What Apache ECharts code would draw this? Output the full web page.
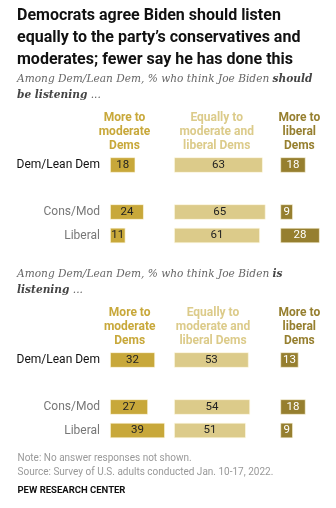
<!DOCTYPE html>
<html><head><meta charset="utf-8">
<script src="https://cdn.jsdelivr.net/npm/echarts@6/dist/echarts.min.js"></script>
<style>html,body{margin:0;padding:0;background:#fff}#c{width:336px;height:508px}</style>
</head><body><div id="c"></div>
<script>
const groups = ['Dem/Lean Dem', '', 'Cons/Mod', 'Liberal'];
const shouldModerate = [18, null, 24, 11];
const shouldEqual = [63, null, 65, 61];
const shouldLiberal = [18, null, 9, 28];
const isModerate = [32, null, 27, 39];
const isEqual = [53, null, 54, 51];
const isLiberal = [13, null, 18, 9];
const colHeaders = ['More to\nmoderate\nDems', 'Equally to\nmoderate and\nliberal Dems', 'More to\nliberal\nDems'];
const colColors = ['#c8a83a', '#dccb8a', '#967f2f'];
const labelColors = ['#222', '#222', '#fff'];

const chart = echarts.init(document.getElementById('c'), null, {renderer: 'canvas'});
const F = 'Roboto, "Liberation Sans", Arial, sans-serif';
const scale = 1.41;
const colLeft = [110, 174, 280.3];
const colMax = [50, 70, 38];
const secTop = [153.25, 348.25];
const bandH = 94;
const grids = [], xAxes = [], yAxes = [], series = [];
const secData = [[shouldModerate, shouldEqual, shouldLiberal], [isModerate, isEqual, isLiberal]];
secData.forEach((cols, s) => {
  cols.forEach((vals, c) => {
    const i = grids.length;
    grids.push({left: colLeft[c], top: secTop[s], width: colMax[c] * scale, height: bandH});
    xAxes.push({gridIndex: i, type: 'value', min: 0, max: colMax[c], show: false});
    yAxes.push({gridIndex: i, type: 'category', data: groups, inverse: true,
      axisLine: {show: false}, axisTick: {show: false}, splitLine: {show: false},
      axisLabel: c === 0 ? {show: true, margin: 10, fontFamily: F, fontSize: 12,
        formatter: v => v === 'Dem/Lean Dem' ? '{a|' + v + '}' : '{b|' + v + '}',
        rich: {a: {color: '#111', fontFamily: F, fontSize: 12}, b: {color: '#777', fontFamily: F, fontSize: 12}}} : {show: false}
    });
    series.push({type: 'bar', xAxisIndex: i, yAxisIndex: i, data: vals, barWidth: 15.5,
      itemStyle: {color: colColors[c], borderColor: 'rgba(255,250,230,0.8)', borderWidth: 0.8},
      label: {show: true, position: 'inside', color: labelColors[c], fontFamily: F, fontSize: 11.5},
      silent: true, animation: false});
  });
});

const headerPos = [
  [[124.5, 132], [216.7, 132], [299.3, 132]],
  [[129.7, 327], [213, 327], [299.3, 327]]
];
const graphic = [];
headerPos.forEach(sec => sec.forEach((p, c) => {
  graphic.push({type: 'text', x: p[0], y: p[1], style: {text: colHeaders[c], fill: colColors[c],
    font: 'bold 12px ' + F, align: 'center', verticalAlign: 'middle', lineHeight: 14}});
}));
graphic.push({type: 'text', x: 17, y: 5, style: {
  text: 'Democrats agree Biden should listen\nequally to the party\u2019s conservatives and\nmoderates; fewer say he has done this',
  fill: '#111', font: 'bold 16px ' + F, lineHeight: 22}});
function sub(y, plain, bold, line2) {
  graphic.push({type: 'text', x: 17, y: y, style: {
    text: '{n|' + plain + '}{b|' + bold + '}\n{b|' + line2 + '}{n| ...}',
    rich: {n: {font: 'italic 10.6px "DejaVu Serif", Georgia, serif', fill: '#666', lineHeight: 16},
           b: {font: 'italic bold 10.6px "DejaVu Serif", Georgia, serif', fill: '#444', lineHeight: 16}}}});
}
sub(71, 'Among Dem/Lean Dem, % who think Joe Biden ', 'should', 'be listening');
sub(266, 'Among Dem/Lean Dem, % who think Joe Biden ', 'is', 'listening');
graphic.push({type: 'text', x: 17.5, y: 452, style: {
  text: 'Note: No answer responses not shown.\nSource: Survey of U.S. adults conducted Jan. 10-17, 2022.',
  fill: '#999', font: '10px ' + F, lineHeight: 13.5}});
graphic.push({type: 'text', x: 17.5, y: 486, style: {text: 'PEW RESEARCH CENTER', fill: '#111', font: 'bold 9.5px ' + F}});

chart.setOption({animation: false, grid: grids, xAxis: xAxes, yAxis: yAxes, series: series, graphic: graphic});
</script></body></html>
